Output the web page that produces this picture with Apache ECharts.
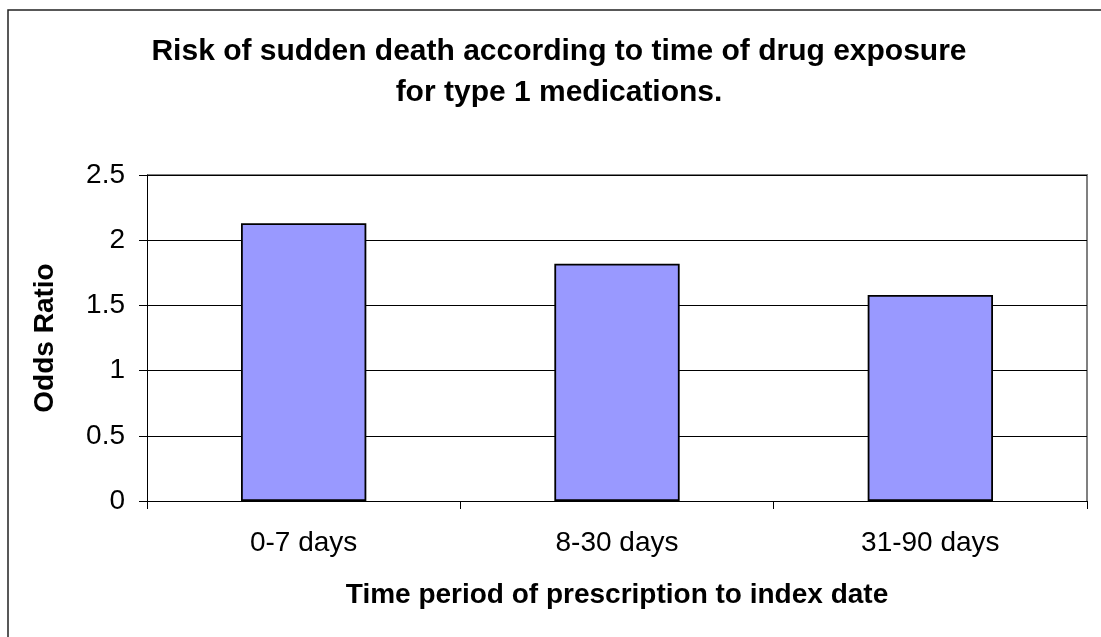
<!DOCTYPE html>
<html>
<head>
<meta charset="UTF-8">
<title>Odds ratio by time period</title>
<script src="https://cdn.jsdelivr.net/npm/echarts@6/dist/echarts.min.js"></script>
<style>
  html, body { margin: 0; padding: 0; background: #fff; }
  #main { width: 1101px; height: 637px; }
</style>
</head>
<body>
<div id="main"></div>
<script type="text/javascript">
  // data
  var periods = ['0-7 days', '8-30 days', '31-90 days'];
  var oddsRatio = [2.13, 1.82, 1.58];
  var yTicks = [0, 0.5, 1, 1.5, 2, 2.5];

  var font = 'Liberation Sans, Arial, sans-serif';
  var myChart = echarts.init(document.getElementById('main'));

  var option = {
    backgroundColor: '#fff',
    animation: false,
    grid: { left: 147, right: 14, top: 175, bottom: 136 },
    xAxis: {
      type: 'category',
      data: periods,
      name: 'Time period of prescription to index date',
      nameLocation: 'middle',
      nameGap: 80,
      nameTextStyle: { color: '#000', fontSize: 28, fontWeight: 'bold', fontFamily: font },
      axisLine: { lineStyle: { color: '#000', width: 1 } },
      axisTick: { show: true, length: 8, lineStyle: { color: '#000' } },
      axisLabel: { color: '#000', fontSize: 28, fontFamily: font, margin: 28 },
      splitLine: { show: false }
    },
    yAxis: {
      type: 'value',
      min: yTicks[0],
      max: yTicks[yTicks.length - 1],
      interval: 0.5,
      name: 'Odds Ratio',
      nameLocation: 'middle',
      nameGap: 88,
      nameTextStyle: { color: '#000', fontSize: 28, fontWeight: 'bold', fontFamily: font },
      axisLine: { show: true, lineStyle: { color: '#000' } },
      axisTick: { show: true, length: 8, lineStyle: { color: '#000' } },
      axisLabel: { color: '#000', fontSize: 28, fontFamily: font, margin: 22 },
      splitLine: { show: true, lineStyle: { color: '#000', width: 1 } }
    },
    series: [{
      type: 'bar',
      data: oddsRatio,
      barWidth: '40%',
      itemStyle: { color: '#9999FF', borderColor: '#000', borderWidth: 1.8 }
    }],
    graphic: {
      elements: [
        {
          // outer chart border
          type: 'rect',
          shape: { x: 8, y: 10, width: 1100, height: 640 },
          style: { fill: null, stroke: '#222', lineWidth: 1.5 },
          silent: true
        },
        {
          // plot area border (top and right)
          type: 'polyline',
          shape: { points: [[147, 175], [1087, 175], [1087, 501]] },
          style: { fill: null, stroke: '#808080', lineWidth: 2 },
          silent: true
        },
        {
          type: 'text',
          x: 559,
          y: 52,
          style: {
            text: 'Risk of sudden death according to time of drug exposure',
            font: 'bold 30px ' + font,
            fill: '#000',
            textAlign: 'center',
            textVerticalAlign: 'middle'
          }
        },
        {
          type: 'text',
          x: 559,
          y: 93,
          style: {
            text: 'for type 1 medications.',
            font: 'bold 30px ' + font,
            fill: '#000',
            textAlign: 'center',
            textVerticalAlign: 'middle'
          }
        }
      ]
    }
  };

  myChart.setOption(option);
</script>
</body>
</html>
